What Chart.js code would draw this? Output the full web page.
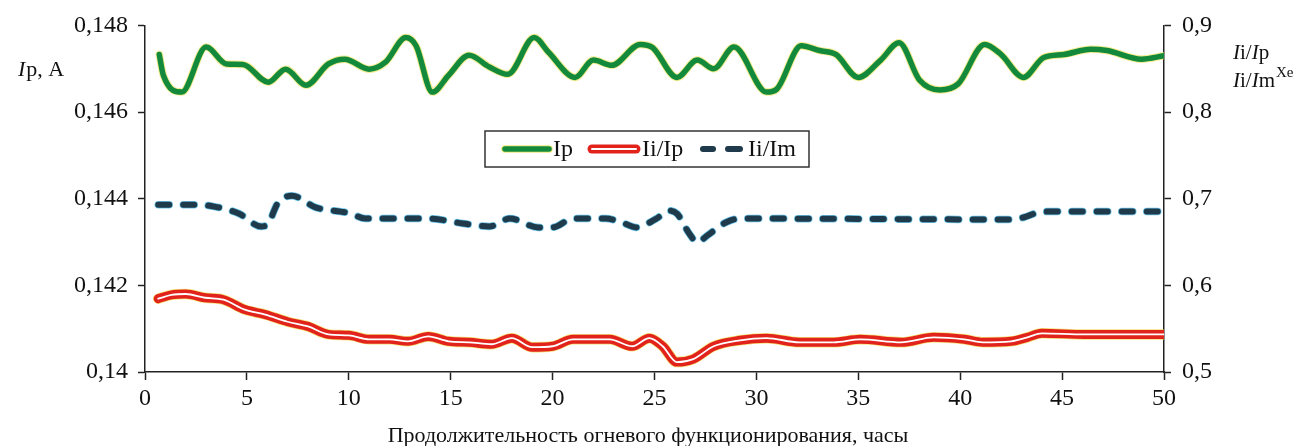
<!DOCTYPE html>
<html>
<head>
<meta charset="utf-8">
<script src="https://cdn.jsdelivr.net/npm/chart.js@4.4.1/dist/chart.umd.min.js"></script>
<style>
  html, body { margin: 0; padding: 0; background: #fff; }
  #wrap { width: 1303px; height: 446px; }
</style>
</head>
<body>
<div id="wrap"><canvas id="chart"></canvas></div>
<script>
// Ip, A (left axis)
const ipHours = [0.7, 0.9, 1.8, 3.0, 4.0, 4.8, 6.05, 6.9, 7.9, 9.0, 9.8, 11.0, 11.8, 12.8, 13.3, 14.1, 14.9, 15.9, 16.9, 17.8,
  19.1, 19.8, 21.1, 22.0, 22.9, 24.3, 24.9, 26.1, 27.1, 27.9, 28.9, 30.5, 31.0, 32.2, 33.1, 33.9, 35.0, 36.1, 37.0, 38.0,
  39.0, 39.9, 41.2, 42.0, 43.1, 44.1, 45.1, 46.4, 47.2, 48.9, 50.0];
const ipValues = [0.14733, 0.14685, 0.14646, 0.1475, 0.14711, 0.1471, 0.14669, 0.14699, 0.14662, 0.14711, 0.14722, 0.14699,
  0.14715, 0.14772, 0.14753, 0.14646, 0.14685, 0.14731, 0.14704, 0.14687, 0.14772, 0.14738, 0.1468, 0.1472, 0.14708,
  0.14756, 0.14749, 0.1468, 0.1472, 0.147, 0.1475, 0.14646, 0.14653, 0.14753, 0.14742, 0.14733, 0.1468, 0.1472, 0.1476,
  0.14674, 0.14651, 0.14665, 0.14756, 0.14733, 0.1468, 0.14726, 0.14733, 0.14745, 0.14742, 0.14722, 0.1473];

// Ii/Ip (right axis)
const ipRatioHours = [0.65, 1.3, 2.0, 2.95, 3.85, 4.9, 5.9, 7.0, 8.0, 9.0, 10.0, 11.0, 12.0, 12.9, 13.9, 14.9, 15.9, 17.0,
  18.0, 19.0, 20.0, 21.0, 22.8, 23.9, 24.75, 25.4, 26.1, 26.9, 27.9, 29.2, 30.5, 32.1, 33.8, 35.1, 37.1, 38.7, 40.2, 41.1,
  42.5, 43.3, 44.0, 46.1, 50.0];
const ipRatioValues = [0.5846, 0.589, 0.590, 0.5857, 0.5834, 0.572, 0.5663, 0.558, 0.5526, 0.5434, 0.5423, 0.5377, 0.5377,
  0.5354, 0.5411, 0.5354, 0.5343, 0.532, 0.539, 0.5286, 0.5297, 0.5377, 0.5377, 0.5297, 0.539, 0.5297, 0.5114, 0.5149,
  0.5297, 0.5366, 0.539, 0.5343, 0.5343, 0.5377, 0.5343, 0.540, 0.5377, 0.5343, 0.5354, 0.540, 0.5446, 0.5434, 0.5434];

// Ii/Im (right axis)
const imRatioHours = [0.65, 2.5, 3.4, 4.6, 5.7, 6.05, 6.5, 7.2, 8.4, 9.6, 10.1, 10.8, 13.9, 15.6, 16.9, 17.9, 19.3, 20.0,
  21.0, 22.6, 23.4, 24.1, 25.1, 25.7, 26.1, 26.7, 27.1, 27.6, 28.5, 29.2, 42.5, 43.1, 43.8, 44.3, 50.0];
const imRatioValues = [0.6931, 0.6931, 0.6909, 0.6829, 0.668, 0.6714, 0.6943, 0.7034, 0.6897, 0.6851, 0.6829, 0.6771,
  0.6771, 0.6714, 0.668, 0.6771, 0.6669, 0.6669, 0.6771, 0.6771, 0.6726, 0.6669, 0.6771, 0.6863, 0.6829, 0.66, 0.6497,
  0.6577, 0.6726, 0.6771, 0.676, 0.6783, 0.684, 0.6851, 0.6851];

const xTitle = 'Продолжительность огневого функционирования, часы';
const legendLabels = ['Ip', 'Ii/Ip', 'Ii/Im'];

const SERIF = "'Liberation Serif', 'DejaVu Serif', serif";
const GREEN = '#12893b';
const RED = '#e2231c';
const NAVY = '#1f3a4a';
const DASH = [11, 14];

function pts(xs, ys) {
  return xs.map((x, i) => ({ x: x, y: ys[i] }));
}

function fmt(v, d) {
  return Number(v.toFixed(d)).toString().replace('.', ',');
}

const base = { fill: false, pointRadius: 0, cubicInterpolationMode: 'monotone', borderCapStyle: 'round', borderJoinStyle: 'round' };

// legend + axis side labels + x title
const extras = {
  id: 'extras',
  afterDraw(chart) {
    const ctx = chart.ctx;
    ctx.save();

    // legend box
    ctx.fillStyle = '#fff';
    ctx.fillRect(485, 131, 324, 36);
    ctx.strokeStyle = '#333';
    ctx.lineWidth = 1.5;
    ctx.strokeRect(485, 131, 324, 36);
    const ly = 149;
    ctx.lineCap = 'round';
    // Ip
    ctx.strokeStyle = 'rgba(232,222,70,0.7)';
    ctx.lineWidth = 7.5;
    ctx.beginPath(); ctx.moveTo(505, ly); ctx.lineTo(549, ly); ctx.stroke();
    ctx.strokeStyle = GREEN;
    ctx.lineWidth = 5.5;
    ctx.beginPath(); ctx.moveTo(505, ly); ctx.lineTo(549, ly); ctx.stroke();
    // Ii/Ip
    ctx.strokeStyle = RED;
    ctx.lineWidth = 9;
    ctx.beginPath(); ctx.moveTo(592, ly); ctx.lineTo(636, ly); ctx.stroke();
    ctx.strokeStyle = '#fff';
    ctx.lineWidth = 2;
    ctx.beginPath(); ctx.moveTo(592, ly); ctx.lineTo(636, ly); ctx.stroke();
    // Ii/Im
    ctx.strokeStyle = NAVY;
    ctx.lineWidth = 6;
    ctx.beginPath(); ctx.moveTo(703, ly); ctx.lineTo(713, ly); ctx.stroke();
    ctx.beginPath(); ctx.moveTo(728, ly); ctx.lineTo(740, ly); ctx.stroke();

    ctx.fillStyle = '#111';
    ctx.font = '24px ' + SERIF;
    ctx.textBaseline = 'middle';
    ctx.textAlign = 'left';
    ctx.fillText(legendLabels[0], 553, ly + 1);
    ctx.fillText(legendLabels[1], 642, ly + 1);
    ctx.fillText(legendLabels[2], 748, ly + 1);

    // left axis label: Ip, A
    ctx.font = 'italic 22px ' + SERIF;
    ctx.fillText('I', 18, 70);
    let w = ctx.measureText('I').width;
    ctx.font = '22px ' + SERIF;
    ctx.fillText('p, A', 18 + w + 1, 70);

    // right axis labels
    function ratio(x, y, sub, sup) {
      ctx.font = 'italic 21px ' + SERIF;
      ctx.fillText('I', x, y);
      x += ctx.measureText('I').width;
      ctx.font = '21px ' + SERIF;
      ctx.fillText('i/', x, y);
      x += ctx.measureText('i/').width;
      ctx.font = 'italic 21px ' + SERIF;
      ctx.fillText('I', x, y);
      x += ctx.measureText('I').width;
      ctx.font = '21px ' + SERIF;
      ctx.fillText(sub, x, y);
      x += ctx.measureText(sub).width;
      if (sup) {
        ctx.font = '15px ' + SERIF;
        ctx.fillText(sup, x + 1, y - 8);
      }
    }
    ratio(1233, 53, 'p');
    ratio(1233, 81, 'm', 'Xe');

    // x title
    ctx.font = '22px ' + SERIF;
    ctx.textAlign = 'center';
    ctx.fillText(xTitle, 648, 436);
    ctx.restore();
  }
};

new Chart(document.getElementById('chart'), {
  type: 'line',
  data: {
    datasets: [
      Object.assign({}, base, { label: legendLabels[0], data: pts(ipHours, ipValues), yAxisID: 'yLeft',
        borderColor: GREEN, borderWidth: 5.5, order: 1 }),
      Object.assign({}, base, { label: 'ip-edge', data: pts(ipHours, ipValues), yAxisID: 'yLeft',
        borderColor: 'rgba(232,222,70,0.6)', borderWidth: 7.5, order: 2 }),
      Object.assign({}, base, { label: 'ii-ip-core', data: pts(ipRatioHours, ipRatioValues), yAxisID: 'yRight',
        borderColor: '#fff', borderWidth: 1.8, order: 3 }),
      Object.assign({}, base, { label: legendLabels[1], data: pts(ipRatioHours, ipRatioValues), yAxisID: 'yRight',
        borderColor: RED, borderWidth: 9, order: 4 }),
      Object.assign({}, base, { label: 'ii-ip-edge', data: pts(ipRatioHours, ipRatioValues), yAxisID: 'yRight',
        borderColor: 'rgba(240,210,60,0.7)', borderWidth: 10.5, order: 5 }),
      Object.assign({}, base, { label: legendLabels[2], data: pts(imRatioHours, imRatioValues), yAxisID: 'yRight',
        borderColor: NAVY, borderWidth: 6, borderDash: DASH, order: 6 }),
      Object.assign({}, base, { label: 'ii-im-edge', data: pts(imRatioHours, imRatioValues), yAxisID: 'yRight',
        borderColor: 'rgba(70,180,225,0.8)', borderWidth: 7.5, borderDash: DASH, order: 7 })
    ]
  },
  options: {
    responsive: true,
    maintainAspectRatio: false,
    animation: false,
    layout: { padding: { top: 23, right: 0, left: 0, bottom: 0 } },
    plugins: { legend: { display: false }, tooltip: { enabled: false } },
    scales: {
      x: {
        type: 'linear', min: 0, max: 50,
        afterFit(s) { s.height = 74; },
        ticks: { stepSize: 5, padding: 4, color: '#111', font: { family: SERIF, size: 24 }, maxRotation: 0 },
        grid: { drawOnChartArea: false, tickLength: 8, color: '#222', tickWidth: 1.5 },
        border: { color: '#222', width: 1.5 }
      },
      yLeft: {
        position: 'left', min: 0.14, max: 0.148,
        afterFit(s) { s.width = 145; },
        ticks: { stepSize: 0.002, padding: 10, color: '#111', font: { family: SERIF, size: 24 },
          callback: v => fmt(v, 3) },
        grid: { drawOnChartArea: false, tickLength: 7, color: '#222', tickWidth: 1.5 },
        border: { color: '#222', width: 1.5 }
      },
      yRight: {
        position: 'right', min: 0.5, max: 0.9,
        afterFit(s) { s.width = 139; },
        ticks: { stepSize: 0.1, padding: 11, color: '#111', font: { family: SERIF, size: 24 },
          callback: v => fmt(v, 1) },
        grid: { drawOnChartArea: false, tickLength: 7, color: '#222', tickWidth: 1.5 },
        border: { color: '#222', width: 1.5 }
      }
    }
  },
  plugins: [extras]
});
</script>
</body>
</html>
